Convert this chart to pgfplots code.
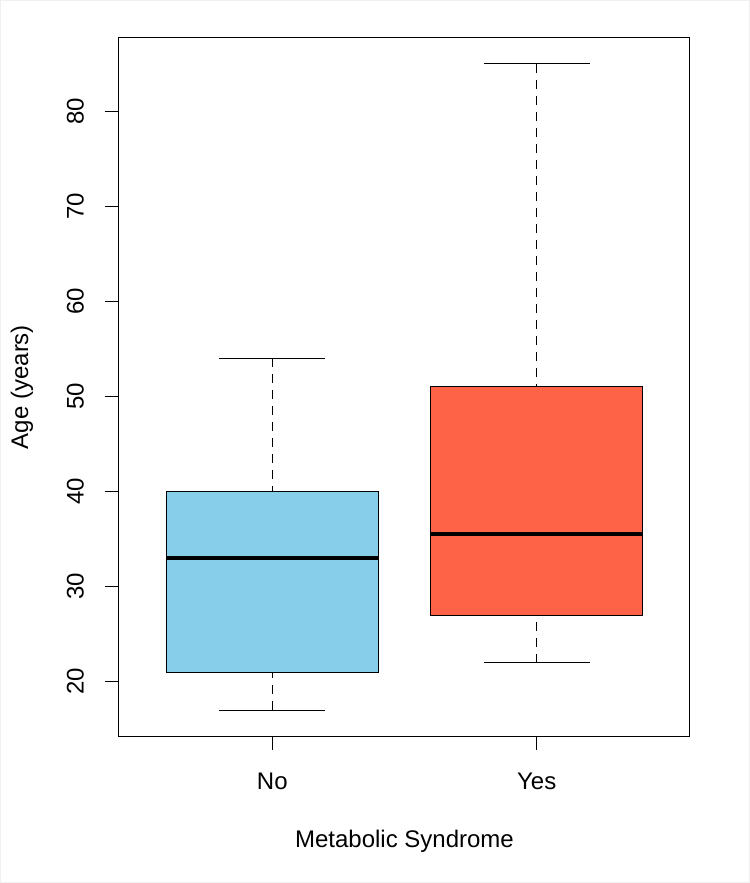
\documentclass[border=0pt]{standalone}
\usepackage{fontspec}
\setmainfont{Liberation Sans}
\usepackage{pgfplots}
\pgfplotsset{compat=1.18}
\definecolor{skyblueR}{RGB}{135,206,235}
\definecolor{tomatoR}{RGB}{255,99,71}
\begin{document}
\begin{tikzpicture}
\begin{axis}[
  scale only axis,
  width=428.25pt, height=523.5pt,
  xmin=0.42, xmax=2.58,
  ymin=14.28, ymax=87.72,
  axis line style={black, line width=0.75pt},
  tick style={black, line width=0.75pt},
  major tick length=10.5pt,
  tick align=outside,
  xtick pos=left, ytick pos=left,
  xtick={1,2}, xticklabels={No,Yes},
  ytick={20,30,40,50,60,70,80},
  /pgf/number format/assume math mode=true,
  ticklabel style={font=\fontsize{18}{21.6}\selectfont},
  yticklabel style={rotate=90, anchor=base, inner sep=0pt, yshift=16pt},
  xticklabel style={anchor=north, inner sep=0pt, yshift=-17pt},
  xlabel={Metabolic Syndrome},
  ylabel={Age (years)},
  label style={font=\fontsize{18}{21.6}\selectfont},
  xlabel style={at={(axis description cs:0.5,-0.15903)}, anchor=base, inner sep=0pt},
  ylabel style={at={(axis description cs:-0.15937,0.5)}, rotate=0, anchor=base, inner sep=0pt},
  clip=false,
]
% boxes (Q1..Q3, width 0.8)
\addplot[draw=black, line width=0.75pt, fill=skyblueR] coordinates {(0.6,21) (1.4,21) (1.4,40) (0.6,40)} -- cycle;
\addplot[draw=black, line width=0.75pt, fill=tomatoR] coordinates {(1.6,27) (2.4,27) (2.4,51) (1.6,51)} -- cycle;
% medians
\addplot[black, line width=3pt] coordinates {(0.6,33) (1.4,33)};
\addplot[black, line width=3pt] coordinates {(1.6,35.5) (2.4,35.5)};
% whiskers (dashed, from whisker end to quartile)
\addplot[black, line width=0.75pt, dash pattern=on 6.75pt off 5.25pt] coordinates {(1,17) (1,21)};
\addplot[black, line width=0.75pt, dash pattern=on 6.75pt off 5.25pt] coordinates {(1,54) (1,40)};
\addplot[black, line width=0.75pt, dash pattern=on 6.75pt off 5.25pt] coordinates {(2,22) (2,27)};
\addplot[black, line width=0.75pt, dash pattern=on 6.75pt off 5.25pt] coordinates {(2,85) (2,51)};
% staples
\addplot[black, line width=0.75pt] coordinates {(0.8,17) (1.2,17)};
\addplot[black, line width=0.75pt] coordinates {(0.8,54) (1.2,54)};
\addplot[black, line width=0.75pt] coordinates {(1.8,22) (2.2,22)};
\addplot[black, line width=0.75pt] coordinates {(1.8,85) (2.2,85)};
\coordinate (bl) at (axis description cs:-0.208406,-0.210602);
\coordinate (tr) at (axis description cs:1.105079,1.054441);
\end{axis}
\draw[black!6, line width=1pt] ([shift={(0.5pt,0.5pt)}]bl) rectangle ([shift={(-0.5pt,-0.5pt)}]tr);
\path[use as bounding box] (bl) rectangle (tr);
\end{tikzpicture}
\end{document}
